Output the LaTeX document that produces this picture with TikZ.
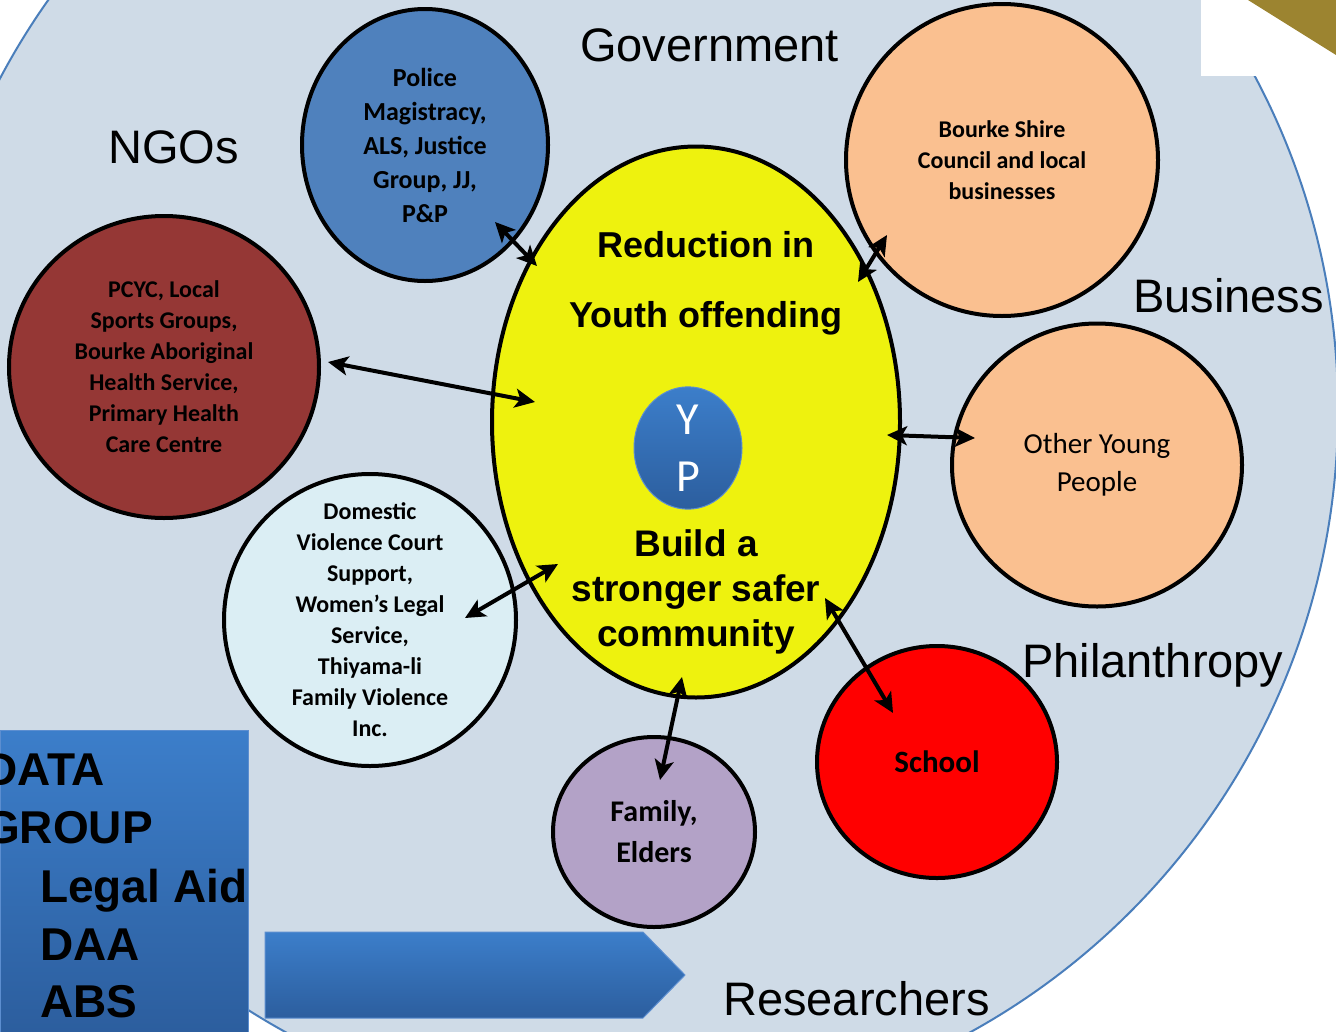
\documentclass[tikz,border=0pt]{standalone}
\usepackage{fontspec}
\setmainfont{Carlito}
\newfontfamily\arialfont{Liberation Sans}
\usepackage{xcolor}
\usepackage{tikz}
\usetikzlibrary{shapes}
\usetikzlibrary{arrows.meta}
\usetikzlibrary{calc}

\definecolor{bgFill}{RGB}{207,219,231}
\definecolor{ring}{RGB}{74,126,187}
\definecolor{gold}{RGB}{156,132,48}
\definecolor{goalYellow}{RGB}{238,242,14}
\definecolor{polBlue}{RGB}{79,129,189}
\definecolor{ngoRed}{RGB}{149,55,53}
\definecolor{dvCyan}{RGB}{219,238,244}
\definecolor{peach}{RGB}{250,192,144}
\definecolor{lavender}{RGB}{179,162,199}
\definecolor{blueTop}{RGB}{60,126,202}
\definecolor{blueBot}{RGB}{44,94,158}
\definecolor{blueEdge}{RGB}{92,142,208}

\begin{document}
\begin{tikzpicture}[
		x=1pt,
		y=1pt,
		font=\fontsize{24pt}{31pt}\selectfont,
		>={Stealth[length=20pt,width=19pt,inset=5pt]},
	]
		\tikzset{partner/.style={
			draw,
			ellipse,
			line width=4,
			inner sep=0,
			align=center,
			font=\bfseries\fontsize{24pt}{31pt}\selectfont,
		}}
		\tikzset{sector/.style={
			anchor=base west,
			inner sep=0,
			font=\arialfont\fontsize{47pt}{56pt}\selectfont,
		}}
		\tikzset{link/.style={
			<->,
			line width=4,
		}}
		\tikzset{bluefill/.style={
			top color=blueTop,
			bottom color=blueBot,
			draw=blueEdge,
			line width=1,
		}}

		\useasboundingbox (0,0) rectangle (1336,-1031);

		%---------------------------------
		% Background
		\fill[white] (0,0) rectangle (1336,-1031);
		\draw[fill=bgFill, draw=ring, line width=2] (628,-410) circle[radius=710];
		\fill[white] (1201,0) rectangle (1336,-76);
		\fill[gold] (1248,0) -- (1336,0) -- (1336,-55) -- cycle;

		%---------------------------------
		% Sectors
		\node[sector] (gov) at (580,-61) {Government};
		\node[sector] (ngo) at (108,-163) {NGOs};
		\node[sector] (bus) at (1133,-312) {Business};
		\node[sector] (phil) at (1022,-677) {Philanthropy};
		\node[sector] (res) at (723,-1015) {Researchers};

		%---------------------------------
		% Goal
		\node[
			partner,
			fill=goalYellow,
			minimum width=408,
			minimum height=551,
		] (goal) at (696,-422) {};
		\node[
			align=center,
			font=\arialfont\bfseries\fontsize{36pt}{70pt}\selectfont,
		] (reduce) at (706,-283) {Reduction in\\Youth offending};
		\node[
			align=center,
			font=\arialfont\bfseries\fontsize{37pt}{45pt}\selectfont,
		] (safer) at (696,-592) {Build a\\stronger safer\\community};
		\node[
			ellipse,
			bluefill,
			minimum width=108,
			minimum height=120,
			inner sep=0,
			align=center,
			text=white,
			font=\fontsize{46pt}{57pt}\selectfont,
		] (yp) at (688,-448) {Y\\P};

		%---------------------------------
		% Partners
		\node[
			partner,
			fill=polBlue,
			minimum width=246,
			minimum height=272,
			font=\bfseries\fontsize{26pt}{34pt}\selectfont,
		] (police) at (425,-145) {Police\\Magistracy,\\ALS, Justice\\Group, JJ,\\P\&P};
		\node[
			partner,
			fill=peach,
			minimum width=312,
			minimum height=312,
		] (bourke) at (1002,-160) {Bourke Shire\\Council and local\\businesses};
		\node[
			partner,
			fill=ngoRed,
			minimum width=310,
			minimum height=302,
		] (pcyc) at (164,-367) {PCYC, Local\\Sports Groups,\\Bourke Aboriginal\\Health Service,\\Primary Health\\Care Centre};
		\node[
			partner,
			fill=dvCyan,
			minimum width=292,
			minimum height=292,
			inner ysep=-30,
		] (dv) at (370,-620) {Domestic\\Violence Court\\Support,\\Women’s Legal\\Service,\\Thiyama-li\\Family Violence\\Inc.};
		\node[
			partner,
			fill=peach,
			minimum width=290,
			minimum height=283,
			font=\fontsize{29pt}{38pt}\selectfont,
		] (other) at (1097,-465) {Other Young\\People};
		\node[
			partner,
			fill=red,
			minimum width=240,
			minimum height=232,
			font=\bfseries\fontsize{31pt}{40pt}\selectfont,
		] (school) at (937,-762) {School};
		\node[
			partner,
			fill=lavender,
			minimum width=202,
			minimum height=190,
			font=\bfseries\fontsize{30pt}{41pt}\selectfont,
		] (family) at (654,-832) {Family,\\Elders};

		%---------------------------------
		% Links
		\draw[link] ([shift={(70,-77)}]police.center) -- ([shift={(-159,156)}]goal.center);
		\draw[link] ([shift={(-115,-75)}]bourke.center) -- ([shift={(162,140)}]goal.center);
		\draw[link] ([shift={(164,5)}]pcyc.center) -- ([shift={(-161,20)}]goal.center);
		\draw[link] ([shift={(191,-13)}]goal.center) -- ([shift={(-122,27)}]other.center);
		\draw[link] ([shift={(95,2)}]dv.center) -- ([shift={(-138,-142)}]goal.center);
		\draw[link] ([shift={(129,-176)}]goal.center) -- ([shift={(-44,49)}]school.center);
		\draw[link] ([shift={(-14,-255)}]goal.center) -- ([shift={(6,52)}]family.center);

		%---------------------------------
		% Data group
		\node[
			bluefill,
			rectangle,
			anchor=north west,
			minimum width=248,
			minimum height=302,
		] (data) at (0,-730) {};
		\node[
			anchor=north west,
			inner sep=0,
			align=left,
			font=\arialfont\bfseries\fontsize{46pt}{57.5pt}\selectfont,
		] (datagrp) at (-16,-754) {DATA\\GROUP};
		\node[
			anchor=north west,
			inner sep=0,
			align=left,
			font=\arialfont\bfseries\fontsize{46pt}{57.5pt}\selectfont,
		] (members) at (40,-869) {Legal Aid\\DAA\\ABS};

		\shade[bluefill] (265,-932) -- (643,-932) -- (685,-975) -- (643,-1018) -- (265,-1018) -- cycle;
	\end{tikzpicture}
\end{document}
